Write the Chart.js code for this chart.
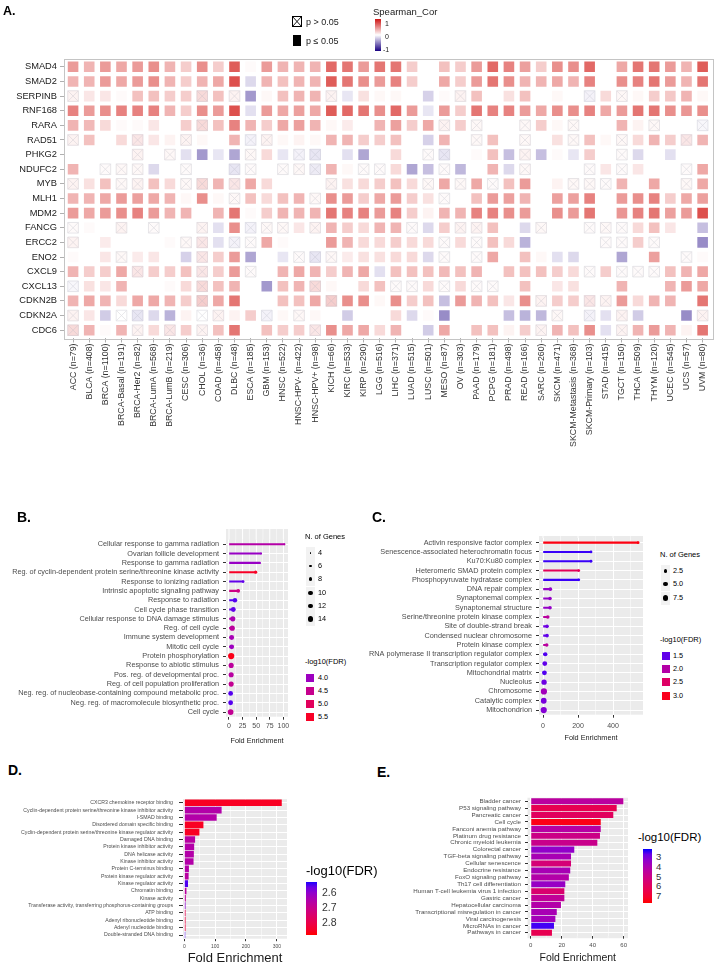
<!DOCTYPE html>
<html><head><meta charset="utf-8">
<script src="https://cdn.jsdelivr.net/npm/chart.js@4.4.1/dist/chart.umd.min.js"></script>
<style>
html,body{margin:0;padding:0;background:#fff;overflow:hidden;}
#wrap{position:relative;width:719px;height:964px;overflow:hidden;font-family:"Liberation Sans",Arial,Helvetica,sans-serif;background:#fff;}
canvas{position:absolute;}
.t{position:absolute;white-space:nowrap;line-height:1;color:#1a1a1a;transform:translateY(-50%);}
.box{position:absolute;}
</style></head>
<body><div id="wrap">
<canvas id="cA" width="719" height="460" style="left:0;top:0;width:719px;height:460px"></canvas>
<canvas id="cB" width="300" height="230" style="left:0;top:520px;width:300px;height:230px"></canvas>
<canvas id="cC" width="292" height="230" style="left:360px;top:520px;width:292px;height:230px"></canvas>
<canvas id="cD" width="300" height="180" style="left:0;top:790px;width:300px;height:180px"></canvas>
<canvas id="cE" width="276" height="180" style="left:360px;top:790px;width:276px;height:180px"></canvas>
</div>
<script>
// ================= DATA =================
// Panel A: Spearman correlation heatmap
const genes = ["SMAD4","SMAD2","SERPINB","RNF168","RARA","RAD51","PHKG2","NDUFC2","MYB","MLH1","MDM2","FANCG","ERCC2","ENO2","CXCL9","CXCL13","CDKN2B","CDKN2A","CDC6"];
const cancers = ["ACC (n=79)","BLCA (n=408)","BRCA (n=1100)","BRCA-Basal (n=191)","BRCA-Her2 (n=82)","BRCA-LumA (n=568)","BRCA-LumB (n=219)","CESC (n=306)","CHOL (n=36)","COAD (n=458)","DLBC (n=48)","ESCA (n=185)","GBM (n=153)","HNSC (n=522)","HNSC-HPV- (n=422)","HNSC-HPV+ (n=98)","KICH (n=66)","KIRC (n=533)","KIRP (n=290)","LGG (n=516)","LIHC (n=371)","LUAD (n=515)","LUSC (n=501)","MESO (n=87)","OV (n=303)","PAAD (n=179)","PCPG (n=181)","PRAD (n=498)","READ (n=166)","SARC (n=260)","SKCM (n=471)","SKCM-Metastasis (n=368)","SKCM-Primary (n=103)","STAD (n=415)","TGCT (n=150)","THCA (n=509)","THYM (n=120)","UCEC (n=545)","UCS (n=57)","UVM (n=80)"];

const SMAD4   = [0.40,0.30,0.40,0.35,0.40,0.45,0.30,0.20,0.45,0.20, 0.65,0.02,0.40,0.30,0.30,0.30,0.60,0.55,0.40,0.55, 0.55,0.20,0.00,0.25,0.20,0.40,0.60,0.50,0.38,0.20, 0.45,0.45,0.60,0.00,0.35,0.55,0.55,0.40,0.30,0.65];
const SMAD2   = [0.30,0.30,0.40,0.35,0.40,0.45,0.30,0.20,0.30,0.35, 0.70,-0.15,0.30,0.25,0.30,0.30,0.65,0.55,0.45,0.40, 0.50,0.20,0.00,0.35,0.20,0.40,0.55,0.45,0.30,0.30, 0.35,0.30,0.50,0.00,0.45,0.50,0.55,0.40,0.30,0.55];
const SERPINB = [0.05,0.10,0.10,0.02,0.25,0.25,0.20,0.20,0.15,0.25, 0.05,-0.40,0.03,0.25,0.30,0.30,0.05,-0.10,0.12,0.03, 0.03,0.00,-0.18,0.02,0.05,0.25,0.00,0.12,0.25,0.00, 0.03,0.00,-0.05,0.15,0.03,0.03,0.20,0.22,0.30,0.03];
const RNF168  = [0.50,0.40,0.45,0.50,0.50,0.50,0.30,0.20,0.45,0.40, 0.70,-0.12,0.40,0.35,0.38,0.35,0.65,0.60,0.55,0.45, 0.60,0.40,-0.10,0.40,0.20,0.55,0.50,0.50,0.40,0.35, 0.45,0.45,0.50,0.35,0.40,0.55,0.55,0.45,0.42,0.45];
const RARA    = [0.30,0.28,0.15,0.02,0.02,0.10,0.00,0.20,0.15,0.25, 0.50,0.30,0.20,0.35,0.38,0.30,0.03,0.08,0.00,0.30, 0.38,0.20,0.35,0.05,0.20,0.03,0.00,0.00,0.03,0.20, 0.03,0.03,0.00,0.00,0.30,0.05,0.03,0.00,0.00,-0.03];
const RAD51   = [0.05,0.25,0.00,0.15,0.10,0.10,0.05,0.05,0.03,0.00, 0.30,-0.05,0.05,0.03,0.05,0.03,0.30,0.30,0.20,0.20, 0.25,0.00,-0.18,0.30,0.00,0.03,0.25,0.00,0.03,0.00, 0.12,0.03,0.25,0.03,0.03,0.15,0.30,0.20,0.10,0.30];
const PHKG2   = [0.00,0.00,0.00,0.00,0.05,0.00,0.03,-0.12,-0.40,-0.10, -0.35,0.03,0.15,-0.10,-0.05,-0.10,0.00,-0.12,-0.35,0.00, 0.15,0.00,0.02,-0.10,0.00,0.02,0.25,-0.25,0.05,-0.25, 0.02,-0.10,0.20,0.00,0.02,-0.15,0.00,-0.12,0.00,0.00];
const NDUFC2  = [0.30,0.00,0.02,0.03,0.03,-0.15,0.00,0.02,0.00,0.00, -0.10,0.02,0.00,0.02,0.03,-0.08,0.30,0.03,0.02,0.02, 0.15,-0.35,-0.25,0.02,-0.28,0.00,0.30,-0.15,0.03,0.00, 0.00,0.00,0.02,0.10,0.02,0.10,0.00,0.00,0.02,0.35];
const MYB     = [0.05,0.12,0.25,0.03,0.05,0.25,0.15,0.03,0.15,0.30, 0.10,0.35,0.15,0.00,0.00,0.00,0.05,0.12,0.15,0.20, 0.25,0.15,0.03,0.35,0.03,0.35,0.02,0.25,0.40,0.00, 0.05,0.03,0.03,0.02,0.30,0.00,0.35,0.00,0.03,0.35];
const MLH1    = [0.30,0.30,0.35,0.40,0.38,0.35,0.30,0.03,0.45,0.03, 0.03,0.25,0.15,0.25,0.30,0.03,0.45,0.40,0.20,0.35, 0.40,0.20,0.12,0.02,0.00,0.25,0.40,0.38,0.30,0.00, 0.38,0.38,0.50,0.00,0.40,0.45,0.50,0.20,0.35,0.38];
const MDM2    = [0.40,0.35,0.40,0.45,0.50,0.40,0.30,0.30,0.00,0.30, 0.55,0.02,0.20,0.30,0.30,0.30,0.55,0.50,0.50,0.40, 0.50,0.20,0.05,0.30,0.30,0.50,0.50,0.45,0.40,0.00, 0.45,0.40,0.55,0.00,0.42,0.50,0.55,0.38,0.40,0.70];
const FANCG   = [0.02,0.02,0.00,0.05,0.00,0.02,0.00,0.00,0.05,-0.12, 0.45,-0.05,0.03,0.03,0.10,0.05,0.30,0.20,0.15,0.30, 0.30,0.02,-0.15,0.20,0.05,0.05,0.25,0.00,-0.15,0.03, 0.00,0.00,0.02,0.03,0.02,0.15,0.25,0.10,0.00,-0.25];
const ERCC2   = [0.05,0.00,0.08,0.00,0.00,0.00,0.02,0.03,0.10,-0.12, -0.05,0.02,0.35,0.02,0.00,0.00,0.40,0.30,0.15,0.15, 0.20,0.15,0.15,0.02,0.15,0.02,0.25,0.15,-0.30,0.00, 0.00,0.00,0.00,0.02,0.02,0.20,0.02,0.00,0.00,-0.45];
const ENO2    = [0.02,0.00,0.10,0.03,0.08,0.10,0.00,-0.18,0.10,0.20, 0.40,-0.35,0.00,-0.10,0.02,-0.10,0.03,0.08,0.12,0.12, 0.15,0.15,-0.15,0.02,0.00,0.02,0.35,0.00,0.25,0.03, -0.12,-0.15,0.00,0.00,-0.35,0.00,0.38,0.00,0.02,0.02];
const CXCL9   = [0.30,0.20,0.20,0.35,0.10,0.20,0.20,0.25,0.10,0.20, 0.40,0.02,0.00,0.30,0.35,0.30,0.20,0.30,0.35,-0.12, 0.25,0.25,0.25,0.28,0.25,0.30,0.00,0.25,0.25,0.25, 0.20,0.15,0.02,0.20,0.02,0.02,0.02,0.25,0.30,0.35];
const CXCL13  = [-0.03,0.12,0.10,0.30,0.00,0.00,0.02,0.15,0.15,0.25, 0.30,0.00,-0.40,0.25,0.30,0.15,0.03,0.00,0.15,0.25, 0.02,0.02,0.15,0.02,0.15,0.02,0.02,0.00,0.25,0.00, 0.10,0.12,0.00,0.00,0.30,0.00,0.00,0.30,0.40,0.35];
const CDKN2B  = [0.30,0.35,0.30,0.15,0.35,0.35,0.30,0.20,0.20,0.35, 0.55,0.00,0.00,0.25,0.25,0.35,0.20,0.45,0.45,0.03, 0.45,0.20,0.25,-0.25,0.40,0.30,0.25,0.10,0.45,0.05, 0.20,0.20,0.10,0.05,0.40,0.15,0.30,0.30,0.00,0.55];
const CDKN2A  = [0.05,0.10,-0.20,0.00,-0.10,-0.15,-0.30,0.05,0.00,0.05, 0.05,0.20,-0.05,0.03,0.03,0.03,0.00,-0.20,0.00,0.00, 0.15,-0.15,0.02,-0.45,0.00,0.00,0.00,-0.25,-0.30,-0.28, 0.03,0.00,-0.05,-0.12,0.05,-0.20,0.00,0.00,-0.45,0.05];
const CDC6    = [0.15,0.30,0.02,0.30,0.05,0.15,0.10,0.20,0.05,0.25, 0.55,0.00,0.25,0.20,0.20,0.10,0.45,0.35,0.35,0.15, 0.30,0.00,-0.20,0.35,0.00,0.25,0.25,0.05,0.20,0.05, 0.30,0.25,0.45,-0.12,0.05,0.30,0.40,0.30,0.05,0.55];

// columns (1-based) where p > 0.05
const SMAD4_ns = [], SMAD2_ns = [], RNF168_ns = [], MDM2_ns = [];
const SERPINB_ns = [1,9,11,17,25,33,35];
const RARA_ns = [9,24,26,29,32,37,40];
const RAD51_ns = [1,5,8,12,13,26,29,32,35,39];
const PHKG2_ns = [5,7,12,15,16,23,24,29,35];
const NDUFC2_ns = [3,4,5,8,11,12,14,15,16,19,20,24,29,33,35,39];
const MYB_ns = [1,4,5,8,9,11,17,23,25,27,32,33,34,39];
const MLH1_ns = [11,16,24];
const FANCG_ns = [1,4,6,9,12,13,14,16,22,25,26,30,33,34,35];
const ERCC2_ns = [1,8,9,11,12,24,26,34,35,37];
const ENO2_ns = [4,9,15,16,17,24,26,39];
const CXCL9_ns = [5,9,12,33,35,36,37];
const CXCL13_ns = [1,9,16,21,22,24,26,27];
const CDKN2B_ns = [9,17,30,33,34];
const CDKN2A_ns = [1,4,5,9,10,13,15,31,33,35,40];
const CDC6_ns = [1,5,7,9,16,30,35];

const corrRows = [SMAD4,SMAD2,SERPINB,RNF168,RARA,RAD51,PHKG2,NDUFC2,MYB,MLH1,MDM2,FANCG,ERCC2,ENO2,CXCL9,CXCL13,CDKN2B,CDKN2A,CDC6];
const nsRows = [SMAD4_ns,SMAD2_ns,SERPINB_ns,RNF168_ns,RARA_ns,RAD51_ns,PHKG2_ns,NDUFC2_ns,MYB_ns,MLH1_ns,MDM2_ns,FANCG_ns,ERCC2_ns,ENO2_ns,CXCL9_ns,CXCL13_ns,CDKN2B_ns,CDKN2A_ns,CDC6_ns];

// Panel B: GO biological process (lollipop)
const bTerms = ["Cellular response to gamma radiation","Ovarian follicle development","Response to gamma radiation","Reg. of cyclin-dependent protein serine/threonine kinase activity","Response to ionizing radiation","Intrinsic apoptotic signaling pathway","Response to radiation","Cell cycle phase transition","Cellular response to DNA damage stimulus","Reg. of cell cycle","Immune system development","Mitotic cell cycle","Protein phosphorylation","Response to abiotic stimulus","Pos. reg. of developmental proc.","Reg. of cell population proliferation","Neg. reg. of nucleobase-containing compound metabolic proc.","Neg. reg. of macromolecule biosynthetic proc.","Cell cycle"];
const bFold  = [102, 59, 57, 49, 26, 17, 11, 8, 7, 6, 5, 5, 4, 4, 4, 4, 3, 3, 3];
const bGenes = [4, 4, 4, 6, 5, 7, 9, 10, 11, 11, 10, 10, 15, 11, 11, 11, 10, 10, 13];
const bFdr   = [4.25, 3.95, 3.95, 5.5, 3.6, 4.6, 3.55, 3.6, 4.15, 4.35, 4.1, 4.0, 5.6, 4.35, 4.3, 4.45, 3.55, 3.55, 4.45];
const bMajor = [0, 25, 50, 75, 100];
const bMinor = [12.5, 37.5, 62.5, 87.5];
const bSizeBreaks = [4, 6, 8, 10, 12, 14];
const bFdrBreaks = [4.0, 4.5, 5.0, 5.5];

// Panel C: GO cellular component (lollipop)
const cTerms = ["Activin responsive factor complex","Senescence-associated heterochromatin focus","Ku70:Ku80 complex","Heteromeric SMAD protein complex","Phosphopyruvate hydratase complex","DNA repair complex","Synaptonemal complex","Synaptonemal structure","Serine/threonine protein kinase complex","Site of double-strand break","Condensed nuclear chromosome","Protein kinase complex","RNA polymerase II transcription regulator complex","Transcription regulator complex","Mitochondrial matrix","Nucleolus","Chromosome","Catalytic complex","Mitochondrion"];
const cFold  = [543, 274, 274, 204, 204, 42, 40, 40, 27, 23, 23, 21, 13, 10, 8, 6, 5, 4, 4];
const cGenes = [2, 2, 2, 2, 2, 3, 3, 3, 3, 3, 3, 3, 4, 5, 5, 6, 8, 7, 8];
const cFdr   = [3.05, 1.4, 1.4, 2.6, 1.4, 1.75, 1.75, 1.75, 2.05, 1.55, 1.5, 2.05, 1.45, 1.5, 1.45, 1.55, 1.85, 1.6, 1.65];
const cMajor = [0, 200, 400];
const cMinor = [100, 300, 500];
const cSizeBreaks = [2.5, 5.0, 7.5];
const cFdrBreaks = [1.5, 2.0, 2.5, 3.0];

// Panel D: GO molecular function (bars)
const dTerms = ["CXCR3 chemokine receptor binding","Cyclin-dependent protein serine/threonine kinase inhibitor activity","I-SMAD binding","Disordered domain specific binding","Cyclin-dependent protein serine/threonine kinase regulator activity","Damaged DNA binding","Protein kinase inhibitor activity","DNA helicase activity","Kinase inhibitor activity","Protein C-terminus binding","Protein kinase regulator activity","Kinase regulator activity","Chromatin binding","Kinase activity","Transferase activity, transferring phosphorus-containing groups","ATP binding","Adenyl ribonucleotide binding","Adenyl nucleotide binding","Double-stranded DNA binding"];
const dFold = [316, 121, 105, 62, 49, 35, 32, 31, 30, 15, 14, 12, 7, 5, 4, 4, 4, 4, 3];
const dFdr  = [2.86, 2.66, 2.66, 2.86, 2.86, 2.67, 2.66, 2.66, 2.66, 2.66, 2.67, 2.55, 2.67, 2.68, 2.6, 2.8, 2.82, 2.82, 2.55];
const dMajor = [0, 100, 200, 300];
const dMinor = [50, 150, 250];
const dFdrBreaks = [2.6, 2.7, 2.8];

// Panel E: KEGG pathways (bars)
const eTerms = ["Bladder cancer","P53 signaling pathway","Pancreatic cancer","Cell cycle","Fanconi anemia pathway","Platinum drug resistance","Chronic myeloid leukemia","Colorectal cancer","TGF-beta signaling pathway","Cellular senescence","Endocrine resistance","FoxO signaling pathway","Th17 cell differentiation","Human T-cell leukemia virus 1 infection","Gastric cancer","Hepatocellular carcinoma","Transcriptional misregulation in cancer","Viral carcinogenesis","MicroRNAs in cancer","Pathways in cancer"];
const eFold = [59.8, 55.5, 53.3, 45.2, 45.2, 44.7, 43.0, 28.1, 26.0, 26.0, 25.5, 24.6, 22.3, 21.7, 21.7, 19.5, 16.8, 15.9, 15.0, 13.7];
const eFdr  = [4.4, 6.3, 6.0, 7.5, 4.3, 5.0, 4.9, 3.4, 3.9, 5.4, 3.9, 4.2, 3.5, 5.6, 4.6, 4.2, 3.9, 3.8, 2.4, 6.3];
const eMajor = [0, 20, 40, 60];
const eMinor = [10, 30, 50];
const eFdrBreaks = [3, 4, 5, 6, 7];

// ================= STYLE HELPERS =================
const FF = '"Liberation Sans", Arial, Helvetica, sans-serif';
Chart.defaults.font.family = FF;
const wrap = document.getElementById('wrap');

function s2l(c){c/=255;return c<=0.04045?c/12.92:Math.pow((c+0.055)/1.055,2.4);}
function l2s(c){c=c<=0.0031308?12.92*c:1.055*Math.pow(c,1/2.4)-0.055;return Math.round(Math.max(0,Math.min(1,c))*255);}
function rgb2lab(rgb){const R=s2l(rgb[0]),G=s2l(rgb[1]),B=s2l(rgb[2]);
  const X=(0.4124*R+0.3576*G+0.1805*B)/0.95047,Y=0.2126*R+0.7152*G+0.0722*B,Z=(0.0193*R+0.1192*G+0.9505*B)/1.08883;
  const f=t=>t>0.008856?Math.cbrt(t):7.787*t+16/116;const fx=f(X),fy=f(Y),fz=f(Z);
  return [116*fy-16,500*(fx-fy),200*(fy-fz)];}
function lab2rgb(lab){const fy=(lab[0]+16)/116,fx=fy+lab[1]/500,fz=fy-lab[2]/200;
  const fi=t=>t*t*t>0.008856?t*t*t:(t-16/116)/7.787;const X=fi(fx)*0.95047,Y=fi(fy),Z=fi(fz)*1.08883;
  return [l2s(3.2406*X-1.5372*Y-0.4986*Z),l2s(-0.9689*X+1.8758*Y+0.0415*Z),l2s(0.0557*X-0.2040*Y+1.0570*Z)];}
const LBLUE=rgb2lab([0,0,255]), LRED=rgb2lab([255,0,0]);
function gradBR(t){t=Math.max(0,Math.min(1,t));const c=lab2rgb([0,1,2].map(i=>LBLUE[i]+(LRED[i]-LBLUE[i])*t));return `rgb(${c[0]},${c[1]},${c[2]})`;}
const colB=v=>gradBR((v-3.4)/(5.7-3.4));
const colC=v=>gradBR((v-1.35)/(3.1-1.35));
const colD=v=>gradBR((v-2.53)/(2.887-2.53));
const colE=v=>gradBR((v-2.18)/(7.72-2.18));
const rB=n=>Math.sqrt(1+Math.max(0,(n-4))/10*(3.0*3.0-1));
const rC=n=>Math.sqrt(1.4*1.4+Math.max(0,(n-2))/6*(3.1*3.1-1.4*1.4));

const HI=[206,5,0], LO=[25,0,130];
function corrRGB(v){const t=Math.min(1,Math.abs(v));const c=v>=0?HI:LO;return c.map(k=>Math.round(255+(k-255)*t));}
const corrColor=v=>{const c=corrRGB(v);return `rgb(${c[0]},${c[1]},${c[2]})`;};
const nsStroke=v=>{const c=corrRGB(v);const g=[178,178,190];const m=c.map((k,i)=>Math.round(k*0.62+g[i]*0.38));return `rgb(${m[0]},${m[1]},${m[2]})`;};

function T(x,y,s,size,opt){opt=opt||{};const d=document.createElement('div');d.className='t';d.textContent=s;
  d.style.left=x+'px';d.style.top=y+'px';d.style.fontSize=size+'px';if(opt.bold)d.style.fontWeight='bold';
  d.style.color=opt.color||'#1a1a1a';wrap.appendChild(d);return d;}
function B(x,y,w,h,css){const d=document.createElement('div');d.className='box';d.style.left=x+'px';d.style.top=y+'px';
  d.style.width=w+'px';d.style.height=h+'px';Object.assign(d.style,css||{});wrap.appendChild(d);return d;}

const framePlugin={id:'frame',afterDatasetsDraw(chart){const a=chart.chartArea,ctx=chart.ctx;ctx.save();ctx.strokeStyle='#c4c4c4';ctx.lineWidth=1;
  ctx.strokeRect(Math.round(a.left-1.5)+0.5,Math.round(a.top-1)+0.5,Math.round(a.right-a.left+3),Math.round(a.bottom-a.top+2));ctx.restore();}};
const ggPanel={id:'ggPanel',beforeDraw(chart,args,opts){const a=chart.chartArea,ctx=chart.ctx;const et=opts.extTop||0,eb=opts.extBottom||0;
  ctx.save();ctx.fillStyle='#EBEBEB';ctx.fillRect(a.left,a.top-et,a.right-a.left,a.bottom-a.top+et+eb);
  const xs=chart.scales.x;ctx.strokeStyle='#fff';
  (opts.major||[]).concat(opts.minor||[]).forEach(v=>{const px=xs.getPixelForValue(v);ctx.lineWidth=(opts.major||[]).includes(v)?1:0.5;
    ctx.beginPath();ctx.moveTo(px,a.top-et);ctx.lineTo(px,a.top);ctx.moveTo(px,a.bottom);ctx.lineTo(px,a.bottom+eb);ctx.stroke();});
  ctx.restore();}};

// ================= PANEL A =================
const cellPts=[], nsPts=[];
genes.forEach((g,gi)=>corrRows[gi].forEach((v,ci)=>{const p={x:cancers[ci],y:g,v:v};cellPts.push(p);if(nsRows[gi].includes(ci+1))nsPts.push(p);}));
const CELL_R=7.5;
new Chart(document.getElementById('cA'),{
  type:'scatter',
  data:{datasets:[
    {data:nsPts,pointStyle:'crossRot',pointRadius:CELL_R,pointHoverRadius:CELL_R,pointBorderColor:c=>nsStroke(c.raw.v),pointBorderWidth:0.8,pointBackgroundColor:'rgba(0,0,0,0)'},
    {data:nsPts,pointStyle:'rect',pointRadius:CELL_R,pointHoverRadius:CELL_R,pointBorderColor:c=>nsStroke(c.raw.v),pointBorderWidth:0.8,pointBackgroundColor:'rgba(0,0,0,0)'},
    {data:cellPts,pointStyle:'rect',pointRadius:CELL_R,pointHoverRadius:CELL_R,pointBackgroundColor:c=>corrColor(c.raw.v),pointBorderWidth:0}
  ]},
  options:{responsive:false,animation:false,events:[],devicePixelRatio:1,
    layout:{padding:{top:59.5,right:4,left:0,bottom:0}},
    plugins:{legend:{display:false},tooltip:{enabled:false}},
    scales:{
      x:{type:'category',labels:cancers,offset:true,afterFit:s=>{s.height=122.5;},
        grid:{display:true,drawOnChartArea:false,offset:false,tickLength:5,color:'#b0b0b0'},border:{display:false},
        ticks:{autoSkip:false,minRotation:90,maxRotation:90,padding:1,color:'#333',font:{size:8.8,family:FF}}},
      y:{type:'category',labels:genes,offset:true,afterFit:s=>{s.width=65;},
        grid:{display:true,drawOnChartArea:false,offset:false,tickLength:5,color:'#b0b0b0'},border:{display:false},
        ticks:{autoSkip:false,padding:3,color:'#1a1a1a',font:{size:9.3,family:FF}}}
    }},
  plugins:[framePlugin]
});

// ================= LOLLIPOP / BAR HELPERS =================
function xScale(o){return {type:'linear',min:o.min,max:o.max,
  afterBuildTicks:s=>{s.ticks=o.major.concat(o.minor).sort((a,b)=>a-b).map(v=>({value:v}));},
  afterFit:s=>{s.height=o.h;},
  grid:{color:'#fff',lineWidth:c=>o.major.includes(c.tick&&c.tick.value)?1:0.5,
    tickColor:c=>o.major.includes(c.tick&&c.tick.value)?'#333':'rgba(0,0,0,0)',tickLength:o.tl,tickWidth:1},
  border:{display:false},
  ticks:{autoSkip:false,maxRotation:0,callback:v=>o.major.includes(v)?String(v):'',padding:o.tp,color:'#4d4d4d',font:{size:o.tf,family:FF}},
  title:{display:true,text:'Fold Enrichment',color:'#1a1a1a',font:{size:o.ttf,family:FF,lineHeight:1.2},padding:{top:0,bottom:o.tpb}}};}
function yScale(o){return {type:'category',offset:true,afterFit:s=>{s.width=o.w;},
  grid:{color:'#fff',lineWidth:1,offset:false,tickLength:o.tl,tickColor:'#333',tickWidth:1},border:{display:false},
  ticks:{autoSkip:false,padding:o.p,color:'#4d4d4d',font:{size:o.f,family:FF}}};}
const baseOpts={indexAxis:'y',responsive:false,animation:false,events:[],devicePixelRatio:1};

// ================= PANEL B =================
new Chart(document.getElementById('cB'),{
  type:'bar',
  data:{labels:bTerms,datasets:[
    {type:'line',indexAxis:'y',data:bFold,showLine:false,pointRadius:c=>rB(bGenes[c.dataIndex]),pointHoverRadius:c=>rB(bGenes[c.dataIndex]),
      pointBackgroundColor:c=>colB(bFdr[c.dataIndex]),pointBorderWidth:0},
    {type:'bar',indexAxis:'y',data:bFold,barThickness:1.4,backgroundColor:c=>colB(bFdr[c.dataIndex])}
  ]},
  options:Object.assign({},baseOpts,{layout:{padding:{top:19.6,right:12,left:0,bottom:0}},
    plugins:{legend:{display:false},tooltip:{enabled:false},ggPanel:{extTop:10.6,major:bMajor,minor:bMinor}},
    scales:{x:xScale({min:-5.5,max:108.5,major:bMajor,minor:bMinor,h:33.3,tl:3,tp:2.5,tf:7,ttf:7.3,tpb:4.9}),
            y:yScale({w:226,tl:3,p:4,f:7.3})}}),
  plugins:[ggPanel]
});

// ================= PANEL C =================
new Chart(document.getElementById('cC'),{
  type:'bar',
  data:{labels:cTerms,datasets:[
    {type:'line',indexAxis:'y',data:cFold,showLine:false,pointRadius:c=>rC(cGenes[c.dataIndex]),pointHoverRadius:c=>rC(cGenes[c.dataIndex]),
      pointBackgroundColor:c=>colC(cFdr[c.dataIndex]),pointBorderWidth:0},
    {type:'bar',indexAxis:'y',data:cFold,barThickness:1.4,backgroundColor:c=>colC(cFdr[c.dataIndex])}
  ]},
  options:Object.assign({},baseOpts,{layout:{padding:{top:18,right:9,left:0,bottom:0}},
    plugins:{legend:{display:false},tooltip:{enabled:false},ggPanel:{extTop:2,major:cMajor,minor:cMinor}},
    scales:{x:xScale({min:-23,max:571,major:cMajor,minor:cMinor,h:35.3,tl:3,tp:4,tf:7,ttf:7.3,tpb:7.3}),
            y:yScale({w:179,tl:3,p:4,f:7.3})}}),
  plugins:[ggPanel]
});

// ================= PANEL D =================
new Chart(document.getElementById('cD'),{
  type:'bar',
  data:{labels:dTerms,datasets:[
    {data:dFold,barPercentage:0.9,categoryPercentage:1,backgroundColor:c=>colD(dFdr[c.dataIndex])}
  ]},
  options:Object.assign({},baseOpts,{layout:{padding:{top:7.3,right:13,left:0,bottom:0}},
    plugins:{legend:{display:false},tooltip:{enabled:false},ggPanel:{major:dMajor,minor:dMinor}},
    scales:{x:xScale({min:-4.2,max:333,major:dMajor,minor:dMinor,h:31.3,tl:2.5,tp:2.5,tf:5,ttf:13,tpb:3.9}),
            y:yScale({w:183,tl:4,p:6,f:5.2})}}),
  plugins:[ggPanel]
});

// ================= PANEL E =================
new Chart(document.getElementById('cE'),{
  type:'bar',
  data:{labels:eTerms,datasets:[
    {data:eFold,barPercentage:0.88,categoryPercentage:1,backgroundColor:c=>colE(eFdr[c.dataIndex])}
  ]},
  options:Object.assign({},baseOpts,{layout:{padding:{top:7.5,right:8,left:0,bottom:0}},
    plugins:{legend:{display:false},tooltip:{enabled:false},ggPanel:{extBottom:2,major:eMajor,minor:eMinor}},
    scales:{x:xScale({min:-2.1,max:62.8,major:eMajor,minor:eMinor,h:33.8,tl:2.5,tp:3.5,tf:6,ttf:10.5,tpb:5.4}),
            y:yScale({w:167.5,tl:2.5,p:4,f:6.2})}}),
  plugins:[ggPanel]
});

// ================= TEXT, LEGENDS =================
T(3,11,'A.',12.5,{bold:true,color:'#000'});
T(17,517,'B.',14,{bold:true,color:'#000'});
T(372,517,'C.',14,{bold:true,color:'#000'});
T(8,770,'D.',14,{bold:true,color:'#000'});
T(377,772,'E.',14,{bold:true,color:'#000'});

// Panel A legend
(function(){const s=document.createElementNS('http://www.w3.org/2000/svg','svg');
  s.setAttribute('width','10');s.setAttribute('height','11');s.style.position='absolute';s.style.left='292px';s.style.top='16px';
  s.innerHTML='<rect x="0.5" y="0.5" width="9" height="10" fill="none" stroke="#000" stroke-width="1"/><line x1="0.5" y1="0.5" x2="9.5" y2="10.5" stroke="#000" stroke-width="0.9"/><line x1="9.5" y1="0.5" x2="0.5" y2="10.5" stroke="#000" stroke-width="0.9"/>';
  wrap.appendChild(s);})();
T(306,21.5,'p > 0.05',9);
B(293,35,8,11,{background:'#000'});
T(306,40.5,'p \u2264 0.05',9);
T(373,12,'Spearman_Cor',9.5);
B(375,19,6,32,{background:'linear-gradient(to bottom, rgb(206,20,20), #fff 50%, rgb(25,0,130))'});
T(385,23,'1',7);T(385,36,'0',7);T(383,49,'-1',7);

// Panel B legend
T(305,537,'N. of Genes',7.5,{color:'#000'});
[553,566,579,593,606,619].forEach((y,i)=>{B(306,y-6.5,9,13,{background:'#F2F2F2'});
  const r=rB(bSizeBreaks[i])*0.85;B(310.5-r,y-r,2*r,2*r,{background:'#000',borderRadius:'50%'});T(318,y,String(bSizeBreaks[i]),7.3,{color:'#000'});});
T(305,662,'-log10(FDR)',7.5,{color:'#000'});
[678,691,704,717].forEach((y,i)=>{B(306,y-4,8,8,{background:colB(bFdrBreaks[i])});T(318,y,bFdrBreaks[i].toFixed(1),7.3,{color:'#000'});});

// Panel C legend
T(660,555,'N. of Genes',7.5,{color:'#000'});
[571,584,598].forEach((y,i)=>{B(661,y-6.5,9,13,{background:'#F2F2F2'});
  const r=rC(cSizeBreaks[i]);B(665.5-r,y-r,2*r,2*r,{background:'#000',borderRadius:'50%'});T(673,y,cSizeBreaks[i].toFixed(1),7.3,{color:'#000'});});
T(660,640,'-log10(FDR)',7.5,{color:'#000'});
[656,669,682,696].forEach((y,i)=>{B(662,y-4,8,8,{background:colC(cFdrBreaks[i])});T(673,y,cFdrBreaks[i].toFixed(1),7.3,{color:'#000'});});

// Panel D legend (colorbar)
function gradCss(lo,hi,col){const st=[];for(let i=0;i<=10;i++){st.push(col(lo+(hi-lo)*i/10)+' '+(i*10)+'%');}return 'linear-gradient(to bottom,'+st.join(',')+')';}
T(306,870,'-log10(FDR)',13,{color:'#000'});
B(306,882,11,53,{background:gradCss(2.533,2.887,colD)});
[892,907,922].forEach((y,i)=>T(322,y,dFdrBreaks[i].toFixed(1),10.5,{color:'#333'}));

// Panel E legend (colorbar)
T(638,838,'-log10(FDR)',11.5,{color:'#000'});
B(643,849,9,54,{background:gradCss(2.18,7.72,colE)});
[857,867,877,886,896].forEach((y,i)=>T(656,y,String(eFdrBreaks[i]),9.5,{color:'#333'}));
</script>
</body></html>
